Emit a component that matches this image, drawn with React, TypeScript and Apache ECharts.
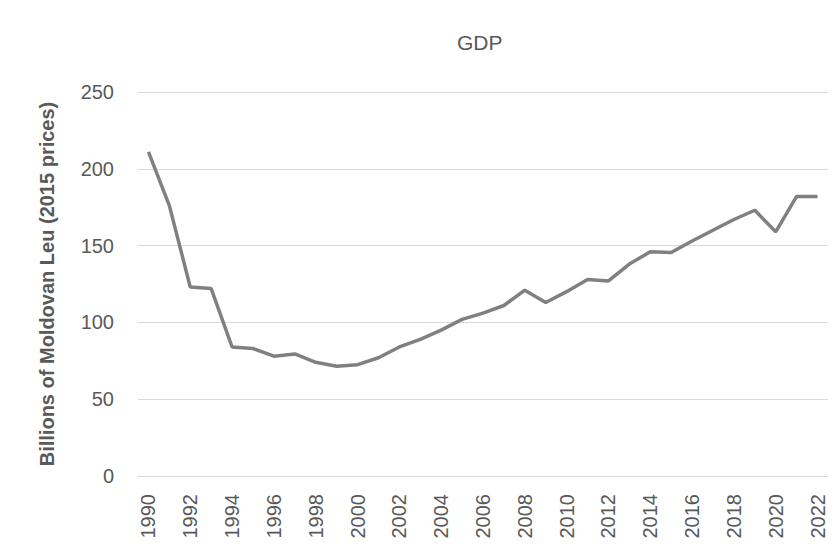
import React, { useEffect, useRef } from "react";
import * as echarts from "echarts";

const years = [
  "1990","1991","1992","1993","1994","1995","1996","1997","1998","1999",
  "2000","2001","2002","2003","2004","2005","2006","2007","2008","2009",
  "2010","2011","2012","2013","2014","2015","2016","2017","2018","2019",
  "2020","2021","2022",
];
const gdp = [
  211, 176, 123, 122, 84, 83, 78, 79.5, 74, 71.5,
  72.5, 77, 84, 89, 95, 102, 106, 111, 121, 113,
  120, 128, 127, 138, 146, 145.5, 153, 160, 167, 173,
  159, 182, 182,
];
const titleText = "GDP";
const yAxisName = "Billions of Moldovan Leu (2015 prices)";

export default function App() {
  const ref = useRef<HTMLDivElement>(null);
  useEffect(() => {
    if (!ref.current) return;
    const chart = echarts.init(ref.current, undefined, { renderer: "svg" });
    const font = "'Liberation Sans', Arial, sans-serif";
    chart.setOption({
      animation: false,
      backgroundColor: "#ffffff",
      title: {
        text: titleText,
        left: 444,
        top: 19,
        textStyle: { fontFamily: font, fontSize: 21, fontWeight: "normal", color: "#595959" },
      },
      grid: { left: 130, right: 2, top: 84, bottom: 67, containLabel: false },
      xAxis: {
        type: "category",
        data: years,
        boundaryGap: true,
        axisLine: { show: true, lineStyle: { color: "#d9d9d9", width: 1 } },
        axisTick: { show: false },
        axisLabel: {
          interval: 1,
          rotate: 90,
          margin: 18,
          fontFamily: font,
          fontSize: 20,
          color: "#595959",
        },
      },
      yAxis: {
        type: "value",
        min: 0,
        max: 250,
        interval: 50,
        name: yAxisName,
        nameLocation: "middle",
        nameGap: 81,
        nameRotate: 90,
        nameTextStyle: { fontFamily: font, fontSize: 20, fontWeight: "bold", color: "#595959" },
        axisLine: { show: false },
        axisTick: { show: false },
        axisLabel: { fontFamily: font, fontSize: 20, color: "#595959", margin: 24 },
        splitLine: { show: true, lineStyle: { color: "#d9d9d9", width: 1 } },
      },
      series: [
        {
          type: "line",
          data: gdp,
          symbol: "none",
          lineStyle: { color: "#808080", width: 3.5 },
        },
      ],
    });
    return () => chart.dispose();
  }, []);
  return <div ref={ref} style={{ width: 822, height: 535 }} />;
}
